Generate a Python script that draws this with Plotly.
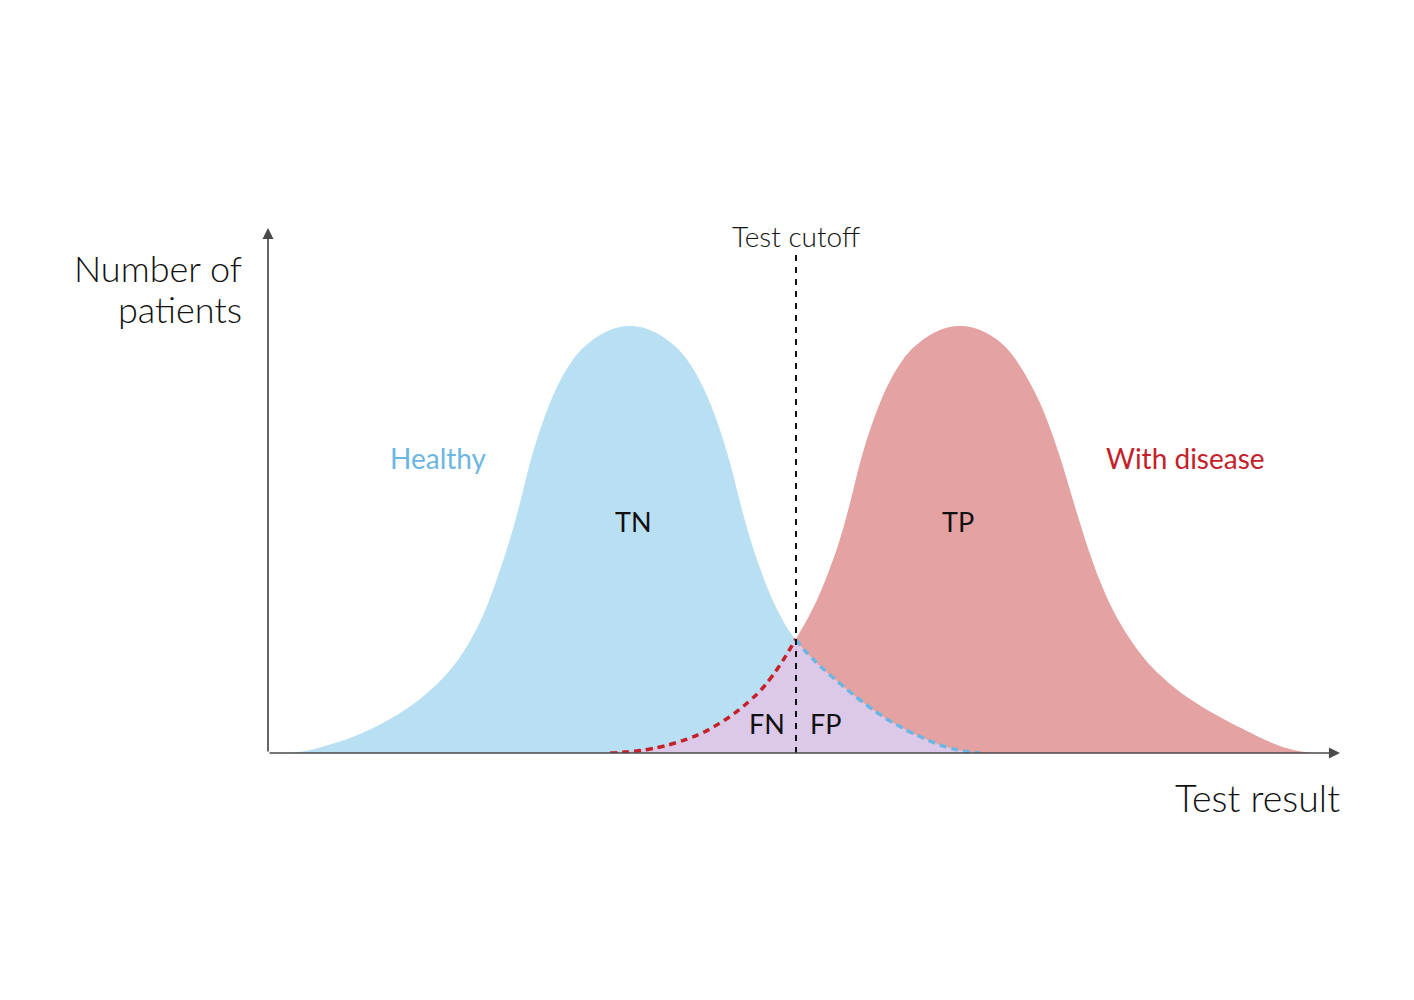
import numpy as np
import plotly.graph_objects as go

# ---- data (test result grid step = 1 unit; y = relative number of patients) ----
healthy_x = list(range(2, 72))
healthy_y = [0.5, 1.2, 3, 5.5, 8.5, 11.5, 15, 19, 23.5, 28.5, 34, 40, 46.5, 54, 62.5, 72, 83, 96, 112, 131,
             155, 183, 214, 250, 290, 323, 350, 372, 389, 402, 411, 418, 423, 426, 427,
             426, 423, 418, 411, 402, 389, 372, 350, 323, 290, 251, 215, 185, 159, 138,
             121, 108, 97, 87, 78, 69.5, 61, 53, 45.5, 38.5, 32, 26.5, 21, 16.5, 12, 8, 5, 2.5, 1, 0]

disease_x = list(range(34, 105))
disease_y = [0, 0.5, 1.3, 2.5, 4, 6, 8.5, 11.5, 15, 19, 24, 30, 36.5, 44, 52.5, 62, 74, 88, 104, 121,
             139, 160, 185, 214, 250, 290, 323, 350, 372, 389, 402, 411, 418, 423, 426, 427,
             426, 423, 418, 411, 401, 387, 370, 350, 325, 296, 263, 230, 199, 172, 149, 130,
             114, 100, 88, 78, 69, 61, 54, 47.5, 41.5, 36, 30.5, 25.5, 20.5, 15.5, 11, 7, 4, 1.8, 0.5]

cutoff = 52.6
cutoff_top = 498

labels = {"TN": (36.3, 232), "TP": (68.8, 232), "FN": (49.7, 30), "FP": (55.5, 30)}

BLUE_FILL = "#b8dff2"
RED_FILL = "#e4a3a2"
PURPLE_FILL = "#dcc9e9"
BLUE_LINE = "#6db6e2"
RED_LINE = "#c4212a"
AXIS = "#4a4a4a"
FONT = "Lato"

XR = [-0.2, 107]
YR = [0, 525]

def px(x):
    return (x - XR[0]) / (XR[1] - XR[0])

def py(y):
    return (y - YR[0]) / (YR[1] - YR[0])

hx = np.array(healthy_x, float); hy = np.array(healthy_y, float)
dx = np.array(disease_x, float); dy = np.array(disease_y, float)

h_cut = float(np.interp(cutoff, hx, hy))
d_cut = float(np.interp(cutoff, dx, dy))

fn_x = list(dx[dx < cutoff]) + [cutoff]
fn_y = list(dy[dx < cutoff]) + [d_cut]
fp_x = [cutoff] + list(hx[hx > cutoff])
fp_y = [h_cut] + list(hy[hx > cutoff])

fig = go.Figure()
spl = dict(shape="spline", smoothing=1.2)
fig.add_trace(go.Scatter(x=hx, y=hy, fill="tozeroy", fillcolor=BLUE_FILL, mode="lines",
                         line=dict(width=0, color=BLUE_FILL, **spl), hoverinfo="skip"))
fig.add_trace(go.Scatter(x=dx, y=dy, fill="tozeroy", fillcolor=RED_FILL, mode="lines",
                         line=dict(width=0, color=RED_FILL, **spl), hoverinfo="skip"))
fig.add_trace(go.Scatter(x=fn_x, y=fn_y, fill="tozeroy", fillcolor=PURPLE_FILL, mode="lines",
                         line=dict(width=0, color=PURPLE_FILL, **spl), hoverinfo="skip"))
fig.add_trace(go.Scatter(x=fp_x, y=fp_y, fill="tozeroy", fillcolor=PURPLE_FILL, mode="lines",
                         line=dict(width=0, color=PURPLE_FILL, **spl), hoverinfo="skip"))
fig.add_trace(go.Scatter(x=fn_x, y=fn_y, mode="lines",
                         line=dict(width=3.5, color=RED_LINE, dash="7px,5px", **spl), hoverinfo="skip"))
fig.add_trace(go.Scatter(x=fp_x, y=fp_y, mode="lines",
                         line=dict(width=3.5, color=BLUE_LINE, dash="7px,5px", **spl), hoverinfo="skip"))
fig.add_trace(go.Scatter(x=[cutoff, cutoff], y=[0, cutoff_top], mode="lines",
                         line=dict(width=2, color="#111111", dash="6px,6px"), hoverinfo="skip"))

ann = []
ann.append(dict(x=XR[1], y=0, ax=XR[0], ay=0, xref="x", yref="y", axref="x", ayref="y",
                text="", showarrow=True, arrowhead=2, arrowsize=1.3, arrowwidth=1.7,
                arrowcolor=AXIS))
ann.append(dict(x=XR[0], y=YR[1], ax=XR[0], ay=0, xref="x", yref="y", axref="x", ayref="y",
                text="", showarrow=True, arrowhead=2, arrowsize=1.3, arrowwidth=1.7,
                arrowcolor=AXIS))

light = dict(family=FONT, weight=300, color="#111111")
ann.append(dict(x=cutoff, y=517, text="Test cutoff", showarrow=False,
                font=dict(size=28, **light), xanchor="center", yanchor="middle"))
ann.append(dict(x=px(-2.6), y=py(485), xref="paper", yref="paper", text="Number of",
                showarrow=False, font=dict(size=36, **light), xanchor="right", yanchor="middle"))
ann.append(dict(x=px(-2.6), y=py(444), xref="paper", yref="paper", text="patients",
                showarrow=False, font=dict(size=36, **light), xanchor="right", yanchor="middle"))
ann.append(dict(x=px(107.2), y=py(-44), xref="paper", yref="paper", text="Test result",
                showarrow=False, font=dict(size=37.5, **light), xanchor="right", yanchor="middle"))
ann.append(dict(x=16.8, y=295, text="Healthy", showarrow=False,
                font=dict(size=28, family=FONT, color=BLUE_LINE), xanchor="center", yanchor="middle"))
ann.append(dict(x=91.5, y=295, text="With disease", showarrow=False,
                font=dict(size=28, family=FONT, color=RED_LINE), xanchor="center", yanchor="middle"))
for t, (lx, ly) in labels.items():
    ann.append(dict(x=lx, y=ly, text=t, showarrow=False,
                    font=dict(size=27, family=FONT, color="#111111"),
                    xanchor="center", yanchor="middle"))

fig.update_layout(
    width=1414, height=1000,
    margin=dict(l=260, r=82, t=220, b=255, autoexpand=False),
    paper_bgcolor="white", plot_bgcolor="white",
    showlegend=False,
    xaxis=dict(range=XR, visible=False, fixedrange=True),
    yaxis=dict(range=YR, visible=False, fixedrange=True),
    annotations=ann,
)
for tr in fig.data:
    tr.cliponaxis = False

fig.write_html("out.html")
